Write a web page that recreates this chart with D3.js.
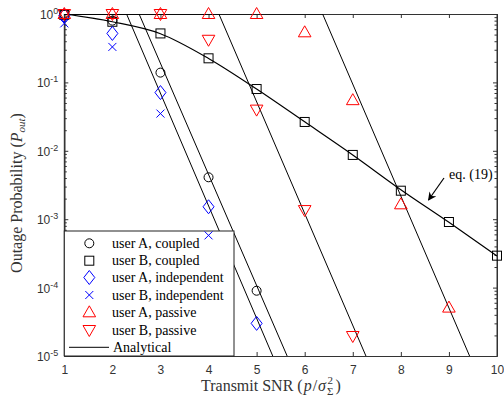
<!DOCTYPE html>
<html><head><meta charset="utf-8">
<script src="https://cdn.jsdelivr.net/npm/d3@7"></script>
<style>body{margin:0;background:#fff}svg{display:block}</style>
</head><body>
<svg id="c" width="504" height="400"></svg>
<script>
const snr = [1,2,3,4,5,6,7,8,9,10];
const xTicks = [1,2,3,4,5,6,7,8,9,10];
const yTickExps = [0,-1,-2,-3,-4,-5];
const userACoupled = [1.0, 0.8, 0.139, 4.1e-3, 9.0e-5];
const userBCoupled = [0.97, 0.77, 0.52, 0.225, 0.080, 0.0264, 0.0087, 0.00261, 9.1e-4, 2.93e-4];
const userAIndep = [0.95, 0.52, 0.071, 1.52e-3, 3.0e-5];
const userBIndep = [0.73, 0.33, 0.035, 5.8e-4];
const userAPassive = [1, 1, 1, 1, 1, 0.54, 0.055, 1.65e-3, 5.1e-5];
const userBPassive = [1, 1, 1, 0.42, 0.04, 1.36e-3, 1.96e-5];
// analytical curves (x, P)
const anaACoupledX = [1, 2.556, 5.635];
const anaACoupledY = [1, 1, 1e-5];
const anaAIndepX = [1, 2.295, 5.336];
const anaAIndepY = [1, 1, 1e-5];
const anaBPassiveX = [1, 4.216, 7.274];
const anaBPassiveY = [1, 1, 1e-5];
const anaAPassiveX = [1, 6.373, 9.43];
const anaAPassiveY = [1, 1, 1e-5];
const anaBCoupled = [1.0, 0.77, 0.515, 0.224, 0.080, 0.0265, 0.0087, 0.0027, 9.0e-4, 2.9e-4];
const legendLabels = ["user A, coupled","user B, coupled","user A, independent","user B, independent","user A, passive","user B, passive","Analytical"];

const svg = d3.select("#c");
const L = 64.3, R = 497, T = 14, B = 356;
const x = d3.scaleLinear().domain([1,10]).range([L,R]);
const y = d3.scaleLog().domain([1e-5,1]).range([B,T]);
const axisCol = "#333";
const sans = "'Liberation Sans', Arial, sans-serif";
const serif = "'Liberation Serif', 'Times New Roman', serif";

svg.append("defs").append("clipPath").attr("id","clip").append("rect")
  .attr("x",L).attr("y",T).attr("width",R-L).attr("height",B-T);

// axes box with inward ticks
const ax = svg.append("g");
ax.append("g").attr("transform",`translate(0,${B})`)
  .call(d3.axisBottom(x).tickValues(xTicks).tickSizeInner(-4).tickSizeOuter(0).tickFormat(d3.format("d")).tickPadding(9));
ax.append("g").attr("transform",`translate(0,${T})`)
  .call(d3.axisTop(x).tickValues(xTicks).tickSizeInner(-4).tickSizeOuter(0).tickFormat(""));
const majors = yTickExps.map(e=>Math.pow(10,e));
const minors = [];
for (let e=-5;e<0;e++) for (let k=2;k<=9;k++) minors.push(k*Math.pow(10,e));
ax.append("g").attr("transform",`translate(${L},0)`)
  .call(d3.axisLeft(y).tickValues(majors).tickSizeInner(-4).tickSizeOuter(0).tickFormat(""));
ax.append("g").attr("transform",`translate(${L},0)`)
  .call(d3.axisLeft(y).tickValues(minors).tickSizeInner(-2.5).tickSizeOuter(0).tickFormat(""));
ax.append("g").attr("transform",`translate(${R},0)`)
  .call(d3.axisRight(y).tickValues(majors).tickSizeInner(-4).tickSizeOuter(0).tickFormat(""));
ax.append("g").attr("transform",`translate(${R},0)`)
  .call(d3.axisRight(y).tickValues(minors).tickSizeInner(-2.5).tickSizeOuter(0).tickFormat(""));
ax.selectAll("path.domain").attr("stroke",axisCol);
ax.selectAll(".tick line").attr("stroke",axisCol);
ax.selectAll(".tick text").attr("font-family",sans).attr("font-size",12).attr("fill","#333");
ax.append("line").attr("x1",L).attr("x2",L).attr("y1",T).attr("y2",B).attr("stroke",axisCol);
ax.append("line").attr("x1",R).attr("x2",R).attr("y1",T).attr("y2",B).attr("stroke",axisCol);

// y tick labels 10^e
const yl = svg.append("g");
yTickExps.forEach(e=>{
  const t = yl.append("text").attr("x",L-6).attr("y",y(Math.pow(10,e))+5)
    .attr("text-anchor","end").attr("font-family",sans).attr("font-size",12).attr("fill","#333");
  t.append("tspan").text("10");
  t.append("tspan").attr("dy",-5).attr("font-size",9).text(String(e));
});

// analytical lines
const lg = svg.append("g").attr("clip-path","url(#clip)");
const line = d3.line().x(d=>x(d[0])).y(d=>y(d[1]));
[[anaACoupledX,anaACoupledY],[anaAIndepX,anaAIndepY],[anaBPassiveX,anaBPassiveY],[anaAPassiveX,anaAPassiveY]].forEach(([xs,ys])=>{
  lg.append("path").attr("d",line(xs.map((v,i)=>[v,ys[i]]))).attr("fill","none").attr("stroke","#000").attr("stroke-width",1);
});
lg.append("path").attr("d",d3.line().x(d=>x(d[0])).y(d=>y(d[1])).curve(d3.curveMonotoneX)(snr.map((s,i)=>[s,anaBCoupled[i]])))
  .attr("fill","none").attr("stroke","#000").attr("stroke-width",1.2);

// marker drawing
function marker(sel, type, cx, cy){
  let el;
  if (type==="circle") el = sel.append("circle").attr("cx",cx).attr("cy",cy).attr("r",4.5).attr("stroke","#000");
  else if (type==="square") el = sel.append("rect").attr("x",cx-4.5).attr("y",cy-4.5).attr("width",9).attr("height",9).attr("stroke","#000");
  else if (type==="diamond") el = sel.append("path").attr("d",`M${cx},${cy-7}L${cx+5.5},${cy}L${cx},${cy+7}L${cx-5.5},${cy}Z`).attr("stroke","#0000ff");
  else if (type==="x") el = sel.append("path").attr("d",`M${cx-4},${cy-4}L${cx+4},${cy+4}M${cx-4},${cy+4}L${cx+4},${cy-4}`).attr("stroke","#0000ff");
  else if (type==="up") el = sel.append("path").attr("d",`M${cx},${cy-6.5}L${cx+6.3},${cy+4.5}L${cx-6.3},${cy+4.5}Z`).attr("stroke","#ff0000");
  else if (type==="down") el = sel.append("path").attr("d",`M${cx},${cy+6.5}L${cx+6.3},${cy-4.5}L${cx-6.3},${cy-4.5}Z`).attr("stroke","#ff0000");
  el.attr("fill","none").attr("stroke-width",1);
  return el;
}
const mg = svg.append("g");
const series = [
  [userACoupled,"circle"],[userBCoupled,"square"],[userAIndep,"diamond"],
  [userAPassive,"up"],[userBPassive,"down"]
];
series.forEach(([vals,type])=>vals.forEach((v,i)=>marker(mg,type,x(snr[i]),y(v))));

// legend
const lgd = svg.append("g");
const bx0 = L, by0 = 231, bx1 = 234, by1 = B;
lgd.append("rect").attr("x",bx0).attr("y",by0).attr("width",bx1-bx0).attr("height",by1-by0)
  .attr("fill","#fff").attr("stroke","#222").attr("stroke-width",1);
const types = ["circle","square","diamond","x","up","down"];
const rowY = [243.3,260.7,277.5,295,312.3,330,347.3];
legendLabels.forEach((lab,i)=>{
  if (i<6) marker(lgd,types[i],89.3,rowY[i]);
  else lgd.append("line").attr("x1",69).attr("x2",109).attr("y1",rowY[i]).attr("y2",rowY[i]).attr("stroke","#000").attr("stroke-width",1);
  lgd.append("text").attr("x",i<6?112:113).attr("y",rowY[i]+4.5).attr("font-family",serif).attr("font-size",14).attr("fill","#000").text(lab);
});
const mg2 = svg.append("g");
userBIndep.forEach((v,i)=>marker(mg2,"x",x(snr[i]),y(v)));

// axis labels
const xl = svg.append("text").attr("x",201).attr("y",391).attr("text-anchor","start")
  .attr("font-family",serif).attr("font-size",16).attr("fill","#333");
xl.append("tspan").text("Transmit SNR (");
xl.append("tspan").attr("font-style","italic").attr("dx",1).text("p");
xl.append("tspan").attr("dx",1).text("/");
xl.append("tspan").attr("font-style","italic").attr("dx",1).text("σ");
xl.append("tspan").attr("font-size",11).attr("dx",1.5).attr("dy",-7).text("2");
xl.append("tspan").attr("font-size",11).attr("dx",-6).attr("dy",11).text("Σ");
xl.append("tspan").attr("dx",2).attr("dy",-4).text(")");

const ylab = svg.append("text").attr("transform","translate(22,193) rotate(-90)").attr("text-anchor","middle")
  .attr("font-family",serif).attr("font-size",16).attr("fill","#333");
ylab.append("tspan").text("Outage Probability (");
ylab.append("tspan").attr("font-style","italic").text("P");
ylab.append("tspan").attr("font-style","italic").attr("font-size",11).attr("dy",3).text("out");
ylab.append("tspan").attr("dy",-3).text(")");

// annotation
svg.append("text").attr("x",449).attr("y",179).attr("font-family",serif).attr("font-size",14).attr("fill","#000").text("eq. (19)");
svg.append("defs").append("marker").attr("id","ah").attr("viewBox","0 0 10 10").attr("refX",9).attr("refY",5)
  .attr("markerWidth",7).attr("markerHeight",7).attr("orient","auto")
  .append("path").attr("d","M0,0L10,5L0,10L3,5Z").attr("fill","#000");
svg.append("line").attr("x1",444).attr("y1",178).attr("x2",428.5).attr("y2",200)
  .attr("stroke","#000").attr("stroke-width",1.2).attr("marker-end","url(#ah)");
</script>
</body></html>
